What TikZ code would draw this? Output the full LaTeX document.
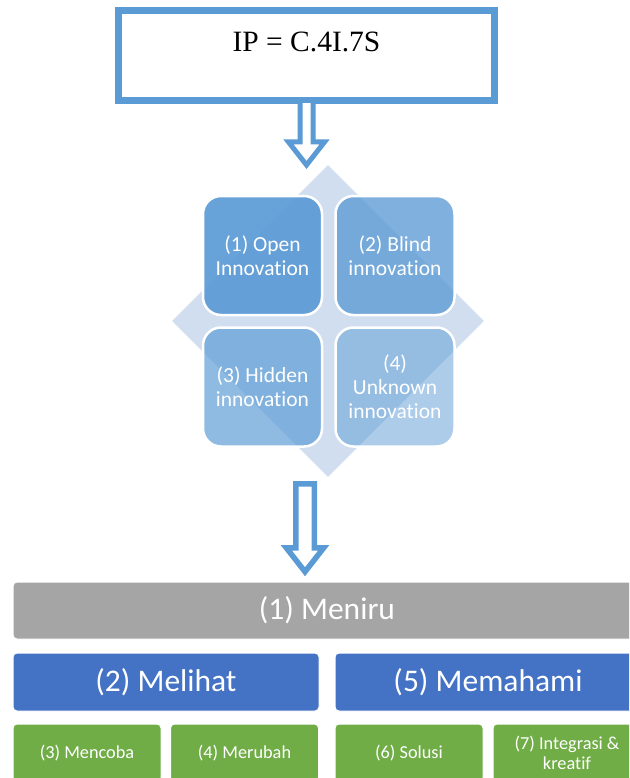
\documentclass[tikz,border=0pt]{standalone}
\usepackage{fontspec}
\setmainfont{Liberation Serif}
\newfontfamily\calib[Ligatures={NoCommon,NoContextual},Contextuals=NoAlternate]{Carlito}
\usetikzlibrary{shapes.geometric}
\definecolor{accblue}{HTML}{5B9BD5}
\definecolor{diac}{HTML}{D1DEEF}
\definecolor{greyc}{HTML}{A5A5A5}
\definecolor{darkblue}{HTML}{4472C4}
\definecolor{greenc}{HTML}{70AD47}
\tikzset{
  ipbox/.style={draw=accblue, line width=7pt, fill=white, rectangle, inner sep=0pt, outer sep=0pt,
    minimum width=376pt, minimum height=89.5pt},
  iptext/.style={font=\fontsize{29.5pt}{34pt}\selectfont, inner sep=0pt, text=black},
  blockarrow/.style={draw=accblue, fill=white, line width=5pt, line join=miter},
  quad/.style={rectangle, rounded corners=18pt, draw=white, line width=2.5pt, fill=accblue,
    minimum width=119pt, minimum height=119pt, inner sep=0pt, text=white, align=center,
    font=\calib\fontsize{21.5pt}{24pt}\selectfont},
  bar/.style={rectangle, rounded corners=4pt, draw=white, line width=1pt, inner sep=0pt, text=white,
    font=\calib\fontsize{31.5pt}{36pt}\selectfont},
  leaf/.style={rectangle, rounded corners=4pt, draw=white, line width=1pt, fill=greenc, inner sep=0pt,
    text=white, align=center, minimum width=148pt, minimum height=58pt,
    font=\calib\fontsize{18.3pt}{20pt}\selectfont}
}
\begin{document}
\begin{tikzpicture}[x=1pt,y=-1pt]
\useasboundingbox (0,0) rectangle (629,778);
\clip (0,0) rectangle (629,778);
\fill[white] (0,0) rectangle (629,778);
% top box
\node[ipbox] (ip) at (306.5,55.75) {};
\node[iptext] (iplabel) at ([yshift=14pt]ip.center) {IP = C.4I.7S};
% diamond and quadrants
\node[diamond, fill=diac, inner sep=0pt, minimum width=312pt, minimum height=312pt] (dia) at (328,321) {};
\node[quad, fill opacity=0.92, text opacity=1] (q1) at (262.5,255.5) {(1) Open\\Innovation};
\node[quad, fill opacity=0.78, text opacity=1] (q2) at (395,255.5) {(2) Blind\\innovation};
\node[quad, fill opacity=0.68, text opacity=1] (q3) at (262.5,387) {(3) Hidden\\innovation};
\node[quad, fill opacity=0.5, text opacity=1] (q4) at (395,387) {(4)\\Unknown\\innovation};
% arrow 1: from ip to the matrix
\draw[blockarrow] (ip.south) ++(-6.5,0) -- ++(0,41.5) -- ++(-11.5,0) -- ++(18,23) -- ++(18,-23)
  -- ++(-11.5,0) -- ++(0,-41.5) -- cycle;
% bars
\node[bar, fill=greyc, minimum width=628pt, minimum height=57pt] (meniru) at (327,610.5) {(1) Meniru};
\node[bar, fill=darkblue, minimum width=306pt, minimum height=58pt] (melihat) at (166,682) {(2) Melihat};
\node[bar, fill=darkblue, minimum width=306pt, minimum height=58pt] (memahami) at (488,682) {(5) Memahami};
% arrow 2: from the matrix to Meniru
\coordinate (a2top) at (305,483.75);
\draw[blockarrow, line width=5.5pt] (a2top) ++(-9.25,0) -- ++(0,64) -- ++(-9.5,0) -- ++(18.75,24)
  -- ++(18.75,-24) -- ++(-9.5,0) -- ++(0,-64) -- cycle;
% leaves
\node[leaf] (mencoba) at (87,753) {(3) Mencoba};
\node[leaf] (merubah) at (244.5,753) {(4) Merubah};
\node[leaf] (solusi) at (409,753) {(6) Solusi};
\node[leaf] (integrasi) at (567,753) {(7) Integrasi \&\\kreatif};
\end{tikzpicture}
\end{document}
